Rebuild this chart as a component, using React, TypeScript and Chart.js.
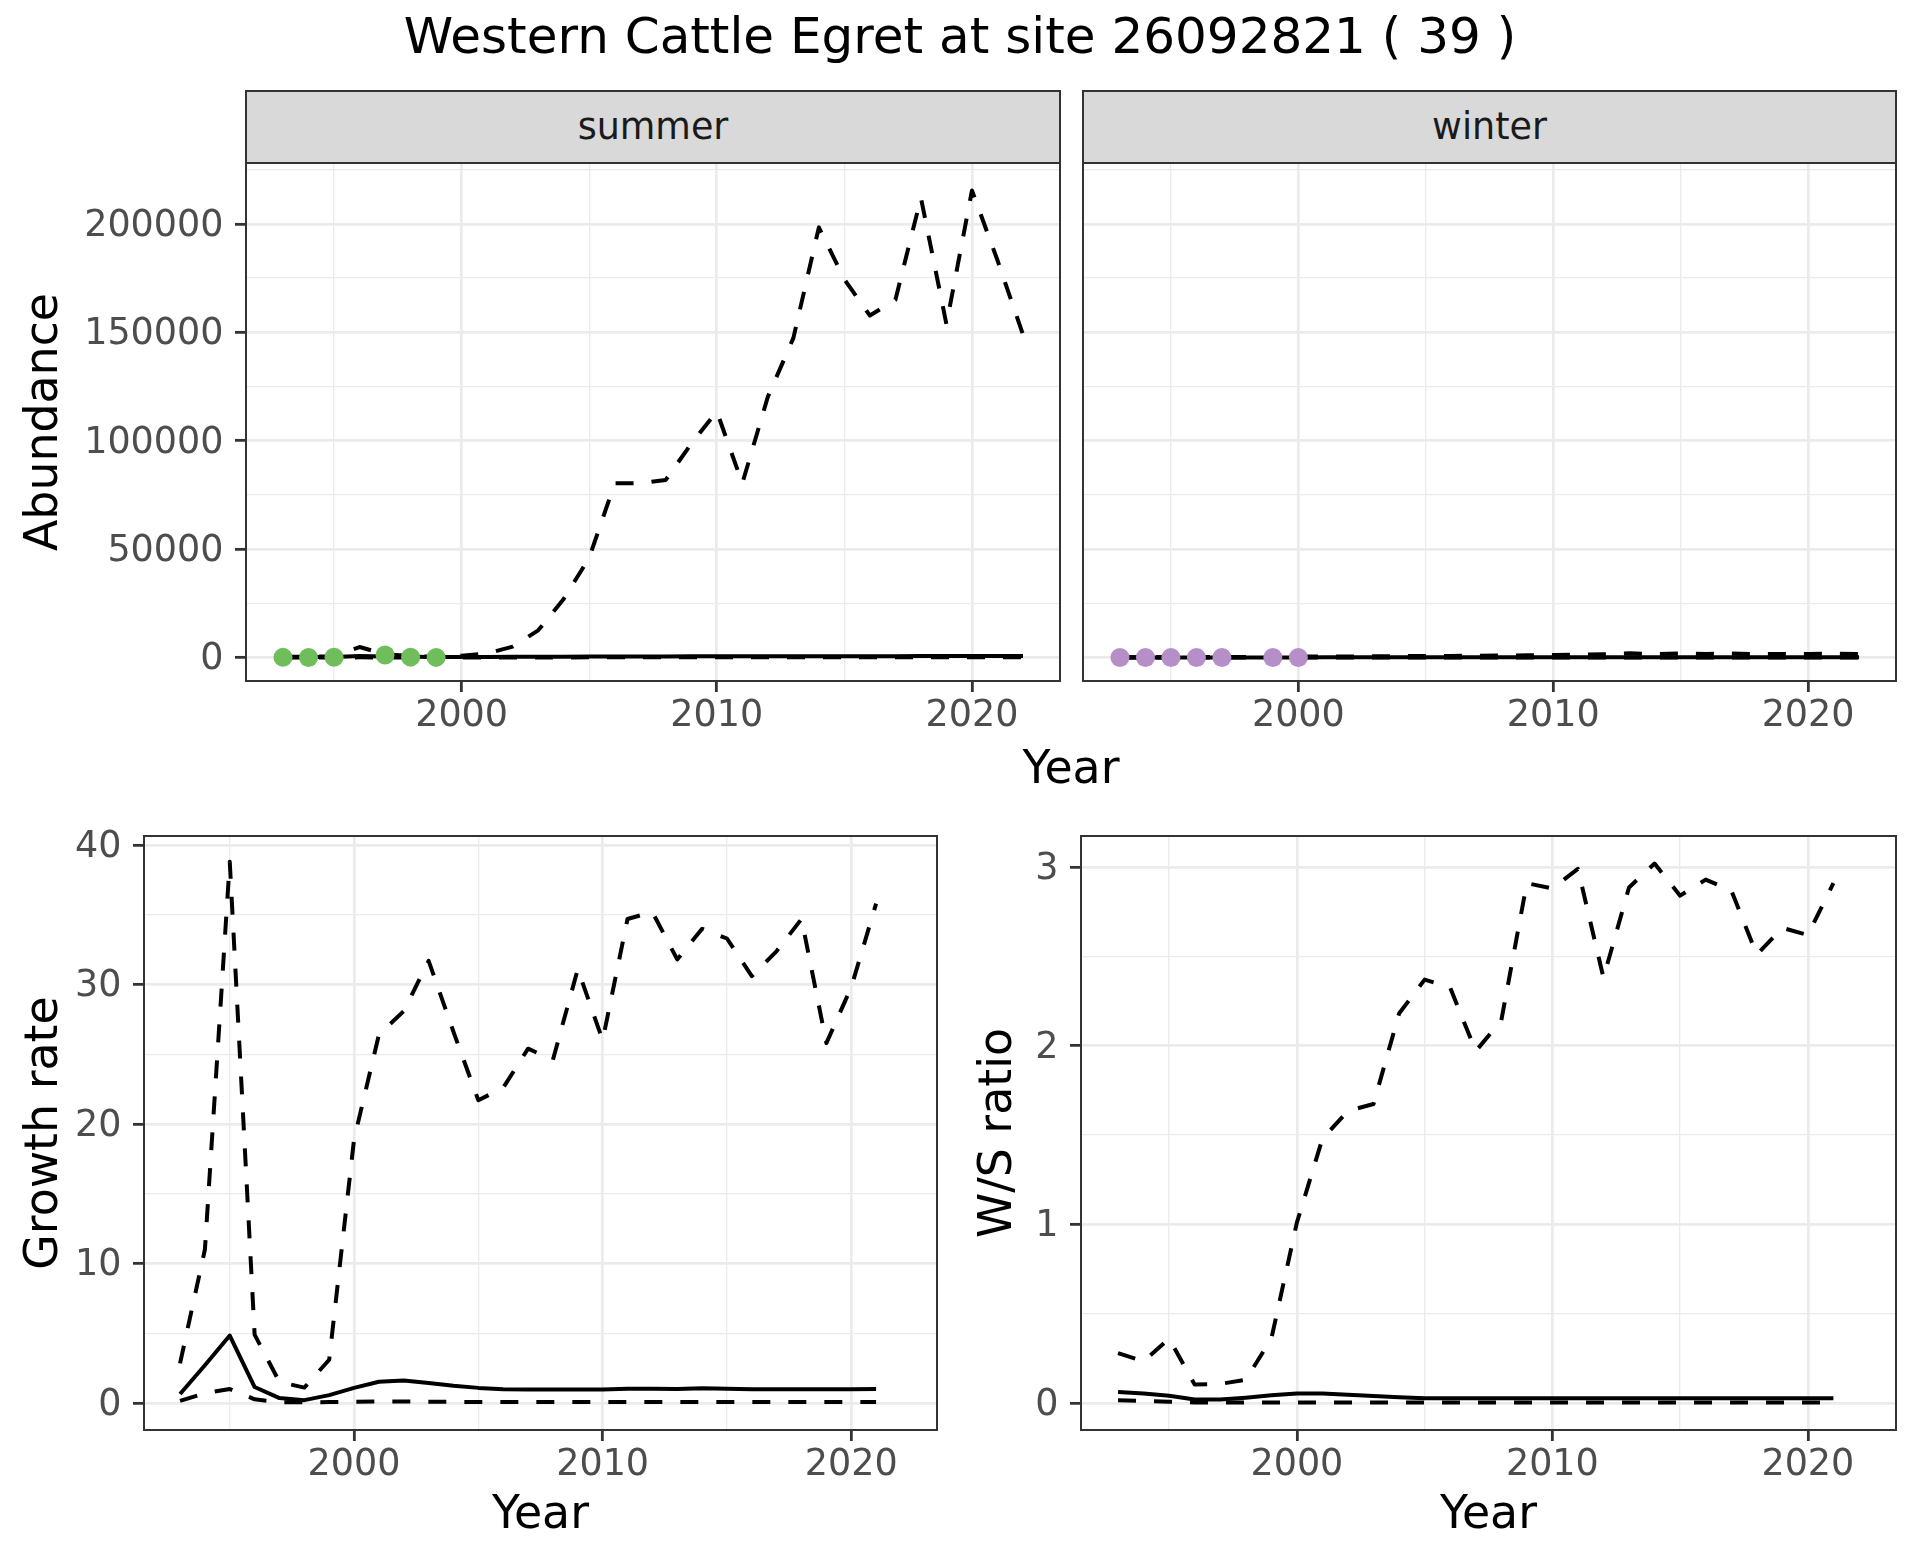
import React, { useEffect, useRef } from "react";
import { Chart, registerables } from "chart.js";

Chart.register(...registerables);

const FONT = "'DejaVu Sans', 'Liberation Sans', sans-serif";
const GRID = "#EBEBEB";
const DARK = "#333333";
const TICK_TEXT = "#4D4D4D";

// ---------------- data ----------------
const years = [1993, 1994, 1995, 1996, 1997, 1998, 1999, 2000, 2001, 2002, 2003, 2004, 2005, 2006, 2007,
  2008, 2009, 2010, 2011, 2012, 2013, 2014, 2015, 2016, 2017, 2018, 2019, 2020, 2021, 2022];
const rateYears = [1993, 1994, 1995, 1996, 1997, 1998, 1999, 2000, 2001, 2002, 2003, 2004, 2005, 2006, 2007,
  2008, 2009, 2010, 2011, 2012, 2013, 2014, 2015, 2016, 2017, 2018, 2019, 2020, 2021];

const summerObsYears = [1993, 1994, 1995, 1997, 1998, 1999];
const summerObsCounts = [40, 10, 60, 1100, 150, 30];
const winterObsYears = [1993, 1994, 1995, 1996, 1997, 1999, 2000];
const winterObsCounts = [0, 0, 0, 0, 0, 0, 0];

const summerMean = [120, 180, 260, 650, 420, 300, 260, 240, 260, 300, 340, 380, 420, 450, 470,
  480, 500, 520, 520, 540, 560, 580, 590, 600, 610, 620, 630, 640, 650, 660];
const summerUpper = [300, 400, 600, 4800, 1500, 600, 300, 800, 1800, 5000, 12500, 27000, 46000, 80300, 80300,
  81900, 98600, 113500, 80300, 120200, 147300, 198400, 174400, 157700, 165000, 212000, 153700, 215400, 183200, 148900];
const summerLower = [10, 15, 20, 40, 30, 20, 15, 15, 20, 25, 30, 35, 40, 45, 50,
  55, 60, 65, 65, 70, 75, 80, 80, 85, 85, 90, 90, 95, 95, 100];

const winterMean = [30, 30, 25, 20, 20, 25, 30, 35, 40, 40, 40, 40, 40, 42, 44,
  46, 48, 50, 52, 54, 56, 58, 60, 62, 62, 64, 66, 68, 70, 72];
const winterUpper = [90, 110, 160, 140, 190, 240, 300, 380, 430, 480, 540, 600, 660, 720, 800,
  880, 980, 1080, 1250, 1450, 1900, 1550, 1850, 1650, 1800, 1550, 1650, 1600, 1700, 1550];
const winterLower = [5, 5, 4, 3, 3, 3, 4, 4, 5, 5, 5, 5, 5, 6, 6,
  6, 6, 7, 7, 7, 7, 8, 8, 8, 8, 8, 9, 9, 9, 9];

const growthMean = [0.64, 2.7, 4.83, 1.14, 0.35, 0.2, 0.56, 1.08, 1.52, 1.61, 1.43, 1.23, 1.08, 0.99, 0.97,
  0.97, 0.97, 0.97, 1.02, 1.02, 1.0, 1.05, 1.02, 0.99, 0.99, 0.99, 0.99, 0.99, 1.0];
const growthUpper = [2.84, 11.0, 38.8, 4.9, 1.5, 1.1, 3.1, 18.9, 26.4, 28.1, 31.7, 26.6, 21.7, 22.6, 25.4,
  24.6, 31.1, 26.0, 34.7, 35.2, 31.8, 34.0, 33.3, 30.6, 32.4, 34.7, 25.8, 29.8, 35.8];
const growthLower = [0.15, 0.7, 1.0, 0.26, 0.06, 0.05, 0.06, 0.08, 0.1, 0.1, 0.09, 0.08, 0.07, 0.06, 0.06,
  0.06, 0.06, 0.06, 0.06, 0.06, 0.06, 0.06, 0.06, 0.06, 0.06, 0.06, 0.06, 0.06, 0.06];

const ratioMean = [0.062, 0.053, 0.041, 0.02, 0.02, 0.03, 0.043, 0.053, 0.053, 0.046, 0.039, 0.032, 0.027, 0.027, 0.027,
  0.027, 0.027, 0.027, 0.027, 0.027, 0.027, 0.027, 0.027, 0.027, 0.027, 0.027, 0.027, 0.027, 0.027];
const ratioUpper = [0.279, 0.233, 0.36, 0.103, 0.107, 0.13, 0.36, 1.01, 1.48, 1.635, 1.674, 2.18, 2.37, 2.325, 1.97,
  2.14, 2.91, 2.88, 2.99, 2.38, 2.886, 3.02, 2.84, 2.93, 2.87, 2.51, 2.66, 2.62, 2.91];
const ratioLower = [0.016, 0.011, 0.007, 0.003, 0.003, 0.003, 0.003, 0.003, 0.003, 0.003, 0.003, 0.003, 0.003, 0.003, 0.003,
  0.003, 0.003, 0.003, 0.003, 0.003, 0.003, 0.003, 0.003, 0.003, 0.003, 0.003, 0.003, 0.003, 0.003];

// axis tick values
const xMajors = [2000, 2010, 2020];
const xMinors = [1995, 2005, 2015];
const abundanceMajors = [0, 50000, 100000, 150000, 200000];
const abundanceMinors = [25000, 75000, 125000, 175000, 225000];
const growthMajors = [0, 10, 20, 30, 40];
const growthMinors = [5, 15, 25, 35];
const ratioMajors = [0, 1, 2, 3];
const ratioMinors = [0.5, 1.5, 2.5];

const TITLE = "Western Cattle Egret at site 26092821 ( 39 )";
const SUMMER_COLOR = "#70BD5C";
const WINTER_COLOR = "#B68FC8";

// ---------------- helpers ----------------
const pts = (xs: number[], ys: number[]) => xs.map((x, i) => ({ x, y: ys[i] }));

const solidLine = (xs: number[], ys: number[]) => ({
  data: pts(xs, ys),
  borderColor: "#000000",
  backgroundColor: "#000000",
  borderWidth: 4,
  pointRadius: 0,
  pointHoverRadius: 0,
  fill: false,
  tension: 0,
  borderCapStyle: "butt",
  borderJoinStyle: "round",
});
const dashedLine = (xs: number[], ys: number[]) => ({ ...solidLine(xs, ys), borderDash: [18, 18] });
const dotSeries = (xs: number[], ys: number[], color: string) => ({
  data: pts(xs, ys),
  showLine: false,
  borderColor: color,
  backgroundColor: color,
  pointBackgroundColor: color,
  pointBorderWidth: 0,
  pointRadius: 9.5,
  pointHoverRadius: 9.5,
});

const panelBorder = {
  id: "panelBorder",
  afterDatasetsDraw(chart: any) {
    const { ctx, chartArea: a } = chart;
    ctx.save();
    ctx.strokeStyle = DARK;
    ctx.lineWidth = 2;
    ctx.strokeRect(a.left, a.top, a.right - a.left, a.bottom - a.top);
    ctx.restore();
  },
};

type AxisCfg = {
  axis: "x" | "y";
  min: number;
  max: number;
  majors: number[];
  minors: number[];
  size: number;
  showLabels: boolean;
  title?: string;
  titlePad?: any;
};

function makeAxis(c: AxisCfg) {
  const all = [...c.majors, ...c.minors].sort((a, b) => a - b);
  const isMajor = (v: number) => c.majors.some((m) => Math.abs(m - v) < 1e-9);
  return {
    type: "linear",
    position: c.axis === "x" ? "bottom" : "left",
    min: c.min,
    max: c.max,
    afterBuildTicks: (scale: any) => {
      scale.ticks = all.map((v) => ({ value: v }));
    },
    afterFit: (scale: any) => {
      if (c.axis === "x") scale.height = c.size;
      else scale.width = c.size;
      scale.paddingTop = 0;
      scale.paddingBottom = 0;
      scale.paddingLeft = 0;
      scale.paddingRight = 0;
    },
    grid: {
      color: GRID,
      lineWidth: (ctx: any) => (ctx.tick && !isMajor(ctx.tick.value) ? 1.3 : 2.7),
      drawTicks: c.showLabels,
      tickLength: 11,
      tickWidth: 2.8,
      tickColor: (ctx: any) => (ctx.tick && isMajor(ctx.tick.value) ? DARK : "rgba(0,0,0,0)"),
    },
    border: { display: false },
    ticks: {
      display: c.showLabels,
      autoSkip: false,
      maxRotation: 0,
      minRotation: 0,
      padding: c.axis === "x" ? 2.8 : 11.5,
      labelOffset: c.axis === "x" ? 0 : 2.4,
      color: TICK_TEXT,
      font: { family: FONT, size: 36.5, lineHeight: 1.2 },
      callback: (v: any) => (isMajor(Number(v)) ? String(v) : ""),
    },
    title: c.title
      ? {
          display: true,
          text: c.title,
          color: "#000000",
          font: { family: FONT, size: 45.8, lineHeight: 1.2 },
          padding: c.titlePad,
        }
      : { display: false },
  };
}

type Rect = { left: number; top: number; width: number; height: number };
type Area = { left: number; top: number; right: number; bottom: number };

function buildConfig(canvas: Rect, area: Area, x: Partial<AxisCfg>, y: Partial<AxisCfg>, datasets: any[]) {
  return {
    type: "line",
    data: { datasets },
    plugins: [panelBorder],
    options: {
      responsive: false,
      maintainAspectRatio: false,
      animation: false,
      devicePixelRatio: 1,
      events: [],
      layout: {
        autoPadding: false,
        padding: {
          left: 0,
          top: area.top - canvas.top,
          right: canvas.left + canvas.width - area.right,
          bottom: 0,
        },
      },
      plugins: { legend: { display: false }, tooltip: { enabled: false }, title: { display: false } },
      scales: {
        x: makeAxis({
          axis: "x",
          min: 1991.55,
          max: 2023.45,
          majors: xMajors,
          minors: xMinors,
          size: canvas.top + canvas.height - area.bottom,
          showLabels: true,
          ...x,
        } as AxisCfg),
        y: makeAxis({
          axis: "y",
          size: area.left - canvas.left,
          ...y,
        } as AxisCfg),
      },
    },
  };
}

function Panel({ canvas, make }: { canvas: Rect; make: () => any }) {
  const ref = useRef<HTMLCanvasElement>(null);
  useEffect(() => {
    const chart = new Chart(ref.current as HTMLCanvasElement, make());
    return () => chart.destroy();
  }, []);
  return (
    <canvas
      ref={ref}
      width={canvas.width}
      height={canvas.height}
      style={{ position: "absolute", left: canvas.left, top: canvas.top, width: canvas.width, height: canvas.height }}
    />
  );
}

// ---------------- layout ----------------
const summerCanvas: Rect = { left: 0, top: 100, width: 1070, height: 640 };
const summerArea: Area = { left: 246, top: 163, right: 1060, bottom: 681 };
const winterCanvas: Rect = { left: 1073, top: 100, width: 847, height: 640 };
const winterArea: Area = { left: 1083, top: 163, right: 1896, bottom: 681 };
const growthCanvas: Rect = { left: 0, top: 790, width: 950, height: 770 };
const growthArea: Area = { left: 144, top: 836, right: 937, bottom: 1430 };
const ratioCanvas: Rect = { left: 950, top: 790, width: 970, height: 770 };
const ratioArea: Area = { left: 1081, top: 836, right: 1896, bottom: 1430 };

const ABUND_MIN = -10860;
const ABUND_MAX = 228070;

const stripStyle = (area: Area): React.CSSProperties => ({
  position: "absolute",
  left: area.left - 1,
  top: 90,
  width: area.right - area.left + 2,
  height: area.top - 90 + 1,
  boxSizing: "border-box",
  border: `2px solid ${DARK}`,
  background: "#D9D9D9",
  color: "#1A1A1A",
  fontFamily: FONT,
  fontSize: 36.5,
  display: "flex",
  alignItems: "center",
  justifyContent: "center",
  lineHeight: 1,
});

export default function App() {
  return (
    <div style={{ position: "absolute", left: 0, top: 0, width: 1920, height: 1560, background: "#ffffff", fontFamily: FONT }}>
      <Panel
        canvas={summerCanvas}
        make={() =>
          buildConfig(
            summerCanvas,
            summerArea,
            {},
            {
              min: ABUND_MIN,
              max: ABUND_MAX,
              majors: abundanceMajors,
              minors: abundanceMinors,
              showLabels: true,
              title: "Abundance",
              titlePad: { top: 17.8, bottom: 0 },
            },
            [
              dotSeries(summerObsYears, summerObsCounts, SUMMER_COLOR),
              solidLine(years, summerMean),
              dashedLine(years, summerUpper),
              dashedLine(years, summerLower),
            ]
          )
        }
      />
      <Panel
        canvas={winterCanvas}
        make={() =>
          buildConfig(
            winterCanvas,
            winterArea,
            {},
            {
              min: ABUND_MIN,
              max: ABUND_MAX,
              majors: abundanceMajors,
              minors: abundanceMinors,
              showLabels: false,
            },
            [
              dotSeries(winterObsYears, winterObsCounts, WINTER_COLOR),
              solidLine(years, winterMean),
              dashedLine(years, winterUpper),
              dashedLine(years, winterLower),
            ]
          )
        }
      />
      <Panel
        canvas={growthCanvas}
        make={() =>
          buildConfig(
            growthCanvas,
            growthArea,
            { title: "Year", titlePad: { top: 0, bottom: 16 } },
            {
              min: -1.94,
              max: 40.65,
              majors: growthMajors,
              minors: growthMinors,
              showLabels: true,
              title: "Growth rate",
              titlePad: { top: 17.8, bottom: 0 },
            },
            [solidLine(rateYears, growthMean), dashedLine(rateYears, growthUpper), dashedLine(rateYears, growthLower)]
          )
        }
      />
      <Panel
        canvas={ratioCanvas}
        make={() =>
          buildConfig(
            ratioCanvas,
            ratioArea,
            { title: "Year", titlePad: { top: 0, bottom: 16 } },
            {
              min: -0.151,
              max: 3.174,
              majors: ratioMajors,
              minors: ratioMinors,
              showLabels: true,
              title: "W/S ratio",
              titlePad: { top: 22, bottom: 0 },
            },
            [solidLine(rateYears, ratioMean), dashedLine(rateYears, ratioUpper), dashedLine(rateYears, ratioLower)]
          )
        }
      />
      <div style={stripStyle(summerArea)}>summer</div>
      <div style={stripStyle(winterArea)}>winter</div>
      <div
        style={{
          position: "absolute",
          left: 0,
          top: 10.5,
          width: 1920,
          textAlign: "center",
          fontSize: 50,
          lineHeight: 1,
          color: "#000000",
          fontFamily: FONT,
        }}
      >
        {TITLE}
      </div>
      <div
        style={{
          position: "absolute",
          left: summerArea.left,
          top: 744.5,
          width: winterArea.right - summerArea.left,
          textAlign: "center",
          fontSize: 45.8,
          lineHeight: 1,
          color: "#000000",
          fontFamily: FONT,
        }}
      >
        Year
      </div>
    </div>
  );
}
